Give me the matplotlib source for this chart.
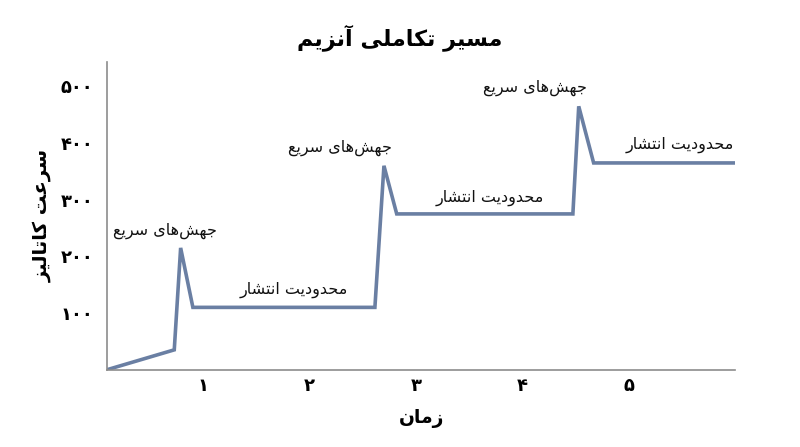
import matplotlib
matplotlib.use("Agg")
import matplotlib.pyplot as plt

# data
time_pts = [0.1, 0.73, 0.79, 0.905, 2.615, 2.70, 2.82, 4.475, 4.53, 4.67, 6.0]
rate_pts = [0, 35, 215, 110, 110, 360, 275, 275, 465, 365, 365]
x_ticks = [1, 2, 3, 4, 5]
y_ticks = [100, 200, 300, 400, 500]

title = "مسیر تکاملی آنزیم"
y_label = "سرعت کاتالیز"
x_label = "زمان"
jump_label = "جهش‌های سریع"
limit_label = "محدودیت انتشار"

# (text, x, y) in data units
notes = [
    (jump_label, 0.64, 245),
    (jump_label, 2.29, 392),
    (jump_label, 4.12, 498),
    (limit_label, 1.85, 141),
    (limit_label, 3.69, 303),
    (limit_label, 5.48, 397),
]

# minimal Arabic/Persian shaping (matplotlib has no text shaping)
# char: (isolated, final, initial, medial); two entries -> right-joining only
FORMS = {
    "ا": (0xFE8D, 0xFE8E), "آ": (0xFE81, 0xFE82),
    "د": (0xFEA9, 0xFEAA), "ر": (0xFEAD, 0xFEAE),
    "ز": (0xFEAF, 0xFEB0), "و": (0xFEED, 0xFEEE),
    "ت": (0xFE95, 0xFE96, 0xFE97, 0xFE98),
    "ج": (0xFE9D, 0xFE9E, 0xFE9F, 0xFEA0),
    "ح": (0xFEA1, 0xFEA2, 0xFEA3, 0xFEA4),
    "س": (0xFEB1, 0xFEB2, 0xFEB3, 0xFEB4),
    "ش": (0xFEB5, 0xFEB6, 0xFEB7, 0xFEB8),
    "ع": (0xFEC9, 0xFECA, 0xFECB, 0xFECC),
    "ک": (0xFB8E, 0xFB8F, 0xFB90, 0xFB91),
    "ل": (0xFEDD, 0xFEDE, 0xFEDF, 0xFEE0),
    "م": (0xFEE1, 0xFEE2, 0xFEE3, 0xFEE4),
    "ن": (0xFEE5, 0xFEE6, 0xFEE7, 0xFEE8),
    "ه": (0xFEE9, 0xFEEA, 0xFEEB, 0xFEEC),
    "ی": (0xFBFC, 0xFBFD, 0xFBFE, 0xFBFF),
}


def shape(s):
    out = []
    for i, c in enumerate(s):
        if c not in FORMS:
            if c != "\u200c":
                out.append(c)
            continue
        prev = s[i - 1] if i > 0 else ""
        nxt = s[i + 1] if i + 1 < len(s) else ""
        join_prev = prev in FORMS and len(FORMS[prev]) == 4
        join_next = len(FORMS[c]) == 4 and nxt in FORMS
        f = FORMS[c]
        if join_prev and join_next:
            g = f[3]
        elif join_prev:
            g = f[1]
        elif join_next:
            g = f[2]
        else:
            g = f[0]
        out.append(chr(g))
    return "".join(reversed(out))


def fa_num(n):
    return str(n).translate(str.maketrans("0123456789", "۰۱۲۳۴۵۶۷۸۹"))


plt.rcParams["font.family"] = ["DejaVu Sans"]

fig = plt.figure(figsize=(8, 4.47), dpi=100)
ax = fig.add_axes([0.134, 0.173, 0.785, 0.688])

ax.plot(time_pts, rate_pts, color="#6A7FA3", linewidth=2.6, solid_joinstyle="miter")

ax.set_xlim(0.1, 6.0)
ax.set_ylim(0, 543)
ax.set_xticks(x_ticks)
ax.set_xticklabels([fa_num(v) for v in x_ticks], fontsize=13, fontweight="bold")
ax.set_yticks(y_ticks)
ax.set_yticklabels([fa_num(v) for v in y_ticks], fontsize=13, fontweight="bold")
ax.tick_params(axis="y", length=0, pad=10)
ax.tick_params(axis="x", length=0, pad=5)

for side in ["top", "right"]:
    ax.spines[side].set_visible(False)
for side in ["left", "bottom"]:
    ax.spines[side].set_color("#8C8C8C")
    ax.spines[side].set_linewidth(1.2)

for txt, tx, ty in notes:
    ax.text(tx, ty, shape(txt), fontsize=11.5, ha="center", va="center", color="#111111")

fig.text(0.5, 0.915, shape(title), fontsize=16, fontweight="bold", ha="center", va="center")
ax.set_xlabel(shape(x_label), fontsize=13.5, fontweight="bold", labelpad=10)
ax.set_ylabel(shape(y_label), fontsize=14, fontweight="bold", labelpad=6)

fig.savefig("out.png", dpi=100)
